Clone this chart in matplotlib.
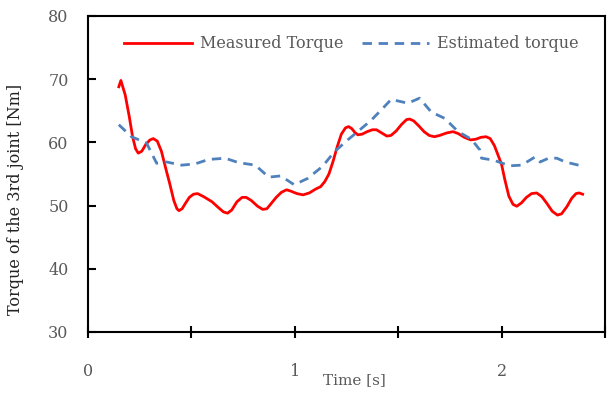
import numpy as np
import matplotlib.pyplot as plt
from matplotlib.ticker import FixedLocator, FuncFormatter

# measured torque (red)
t_meas = [0.149, 0.159, 0.18, 0.20, 0.215, 0.23, 0.243, 0.26, 0.28, 0.30, 0.316, 0.335,
          0.355, 0.375, 0.395, 0.415, 0.43, 0.44, 0.455, 0.47, 0.49, 0.51, 0.53, 0.56,
          0.60, 0.63, 0.655, 0.675, 0.695, 0.72, 0.745, 0.765, 0.79, 0.82, 0.845, 0.865,
          0.885, 0.91, 0.935, 0.96, 0.98, 1.01, 1.04, 1.07, 1.10, 1.125, 1.145, 1.165,
          1.185, 1.205, 1.225, 1.245, 1.26, 1.275, 1.29, 1.305, 1.325, 1.35, 1.375, 1.395,
          1.42, 1.445, 1.465, 1.49, 1.515, 1.54, 1.555, 1.575, 1.60, 1.625, 1.65, 1.675,
          1.70, 1.735, 1.765, 1.79, 1.82, 1.85, 1.875, 1.90, 1.925, 1.945, 1.965, 1.985,
          2.0, 2.015, 2.035, 2.055, 2.073, 2.095, 2.12, 2.145, 2.17, 2.195, 2.22, 2.245,
          2.27, 2.29, 2.315, 2.34, 2.36, 2.375, 2.392]
tq_meas = [68.8, 69.8, 67.5, 64.0, 61.0, 59.0, 58.3, 58.6, 59.7, 60.4, 60.6, 60.2,
           58.6, 56.0, 53.5, 50.8, 49.5, 49.2, 49.5, 50.3, 51.3, 51.8, 51.9, 51.4,
           50.6, 49.7, 49.0, 48.8, 49.3, 50.6, 51.3, 51.3, 50.8, 49.9, 49.4, 49.5,
           50.3, 51.3, 52.1, 52.5, 52.3, 51.9, 51.7, 52.0, 52.6, 53.0, 53.8, 55.0,
           57.0, 59.3, 61.3, 62.3, 62.5, 62.2, 61.6, 61.2, 61.3, 61.7, 62.0, 62.0,
           61.5, 61.0, 61.1, 61.8, 62.8, 63.6, 63.7, 63.4, 62.6, 61.7, 61.1, 60.9,
           61.1, 61.5, 61.7, 61.4, 60.8, 60.4, 60.5, 60.8, 60.9, 60.6, 59.5, 57.8,
           56.5, 54.2, 51.5, 50.2, 49.9, 50.4, 51.3, 51.9, 52.0, 51.4, 50.3, 49.1,
           48.5, 48.7, 49.8, 51.2, 51.9, 52.0, 51.8]

# estimated torque (blue dashed)
t_est = [0.149, 0.21, 0.283, 0.332, 0.38, 0.453, 0.518, 0.583, 0.663, 0.728, 0.809, 0.874,
         0.932, 0.997, 1.062, 1.134, 1.191, 1.256, 1.304, 1.369, 1.417, 1.466, 1.547, 1.603,
         1.66, 1.725, 1.79, 1.854, 1.895, 1.903, 1.96, 2.04, 2.097, 2.162, 2.186, 2.227,
         2.267, 2.308, 2.372]
tq_est = [62.8, 60.9, 59.9, 56.7, 56.9, 56.4, 56.6, 57.3, 57.5, 56.8, 56.4, 54.5,
          54.7, 53.3, 54.3, 56.2, 58.5, 60.4, 61.7, 63.5, 65.1, 66.8, 66.2, 67.0,
          64.8, 63.8, 61.7, 60.5, 58.8, 57.5, 57.2, 56.3, 56.4, 57.7, 56.9, 57.5,
          57.5, 56.9, 56.4]

x_ticks = [0, 0.5, 1, 1.5, 2, 2.5]
y_ticks = [30, 40, 50, 60, 70, 80]

plt.rcParams['font.family'] = 'DejaVu Serif'
gray = '#595959'

fig = plt.figure(figsize=(6.1, 3.98), dpi=100)
ax = fig.add_axes([88 / 610, 1 - 332 / 398, (605 - 88) / 610, (332 - 16) / 398])

ax.plot(t_meas, tq_meas, color='#ff0000', lw=2.0, solid_joinstyle='round',
        label='Measured Torque')
ax.plot(t_est, tq_est, color='#4f81bd', lw=2.0, ls=(0, (3.4, 2.4)), label='Estimated torque')

ax.set_xlim(0, 2.5)
ax.set_ylim(30, 80)
ax.xaxis.set_major_locator(FixedLocator(x_ticks))
ax.xaxis.set_major_formatter(FuncFormatter(lambda v, p: f'{v:g}' if v == int(v) else ''))
ax.set_yticks(y_ticks)

for s in ax.spines.values():
    s.set_linewidth(1.5)
    s.set_color('black')
ax.tick_params(axis='x', direction='inout', length=9, width=1.5, pad=18,
               labelsize=11.5, labelcolor=gray)
ax.tick_params(axis='y', direction='in', length=6, width=1.5, pad=14,
               labelsize=11.5, labelcolor=gray)

ax.set_xlabel('Time [s]', fontsize=11, color=gray, labelpad=-1)
ax.xaxis.set_label_coords(0.516, -0.13)
ax.set_ylabel('Torque of the 3rd joint [Nm]', fontsize=11.5, color='#222222')
ax.yaxis.set_label_coords(-0.123, 0.42)

ax.legend(loc='upper center', bbox_to_anchor=(0.51, 0.985), ncol=2, frameon=False,
          fontsize=11.5, handlelength=4.2, handletextpad=0.5, columnspacing=1.2,
          labelcolor=gray)

fig.savefig('out.png', dpi=100)
